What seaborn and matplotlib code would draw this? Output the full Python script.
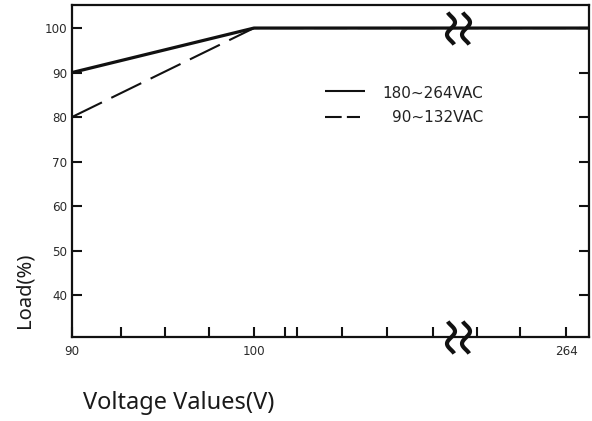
import numpy as np
import pandas as pd
import matplotlib
matplotlib.use("Agg")
import matplotlib.pyplot as plt
import matplotlib.transforms as mtransforms
from matplotlib.path import Path
import seaborn as sns

# data
volts = [90, 100, 270]          # 270 = right edge of the frame
load_high = [90, 100, 100]      # 180~264VAC
load_low = [80, 100, 100]       # 90~132VAC
series_names = ["180~264VAC", "90~132VAC"]
x_tick_values = [90, 100, 264]
x_tick_labels = ["90", "100", "264"]
y_tick_values = [40, 50, 60, 70, 80, 90, 100]

df = pd.DataFrame({
    "volt": volts + volts,
    "load": load_high + load_low,
    "series": [series_names[0]] * 3 + [series_names[1]] * 3,
})

# broken x axis: piecewise linear mapping voltage -> position
scale_volts = [90, 100, 264, 270]
scale_pos = [0.0, 0.352, 0.9555, 1.0]


def volt_to_pos(v):
    return np.interp(v, scale_volts, scale_pos)


def pos_to_volt(p):
    return np.interp(p, scale_pos, scale_volts)


sns.set_style("ticks")
plt.rcParams["font.family"] = ["DejaVu Sans"]

fig = plt.figure(figsize=(5.92, 4.21), dpi=100)
ax = fig.add_axes([0.1216, 0.1995, 0.8734, 0.7885])
ax.set_xscale("function", functions=(volt_to_pos, pos_to_volt))

sns.lineplot(data=df, x="volt", y="load", style="series",
             dashes={series_names[0]: "", series_names[1]: (16, 5)},
             color="#111111", legend=False, sort=False, estimator=None,
             ax=ax)
ax.lines[0].set_linewidth(2.3)
ax.lines[1].set_linewidth(1.5)

ax.set_xlim(90, 270)
ax.set_ylim(30.56, 105.17)

ax.set_xticks(x_tick_values)
ax.set_xticklabels(x_tick_labels)
minor_pos = np.array([0.0948, 0.180, 0.265, 0.412, 0.435, 0.522,
                      0.609, 0.698, 0.783, 0.867])
ax.set_xticks(pos_to_volt(minor_pos), minor=True)
ax.set_yticks(y_tick_values)
ax.set_yticklabels([str(v) for v in y_tick_values])

ax.tick_params(axis="both", which="both", direction="in", length=7,
               width=1.5, color="#111111", labelcolor="#2a2a2a",
               labelsize=8.6)
ax.tick_params(axis="y", right=True, pad=3.6)
ax.tick_params(axis="x", pad=6)
for sp in ax.spines.values():
    sp.set_linewidth(1.6)
    sp.set_color("#111111")

ax.set_xlabel("Voltage Values(V)", fontsize=17, family=["Noto Sans"],
              color="#1a1a1a")
ax.xaxis.set_label_coords(0.207, -0.163)
ax.set_ylabel("Load(%)", fontsize=14.5, family=["Noto Sans"],
              color="#1a1a1a")
ax.yaxis.set_label_coords(-0.091, 0.142)
ax.yaxis.label.set_verticalalignment("center")

# manual legend with right-aligned labels
ax.plot([0.489, 0.567], [0.741, 0.741], transform=ax.transAxes,
        color="#111111", lw=1.5, solid_capstyle="butt")
ax.plot([0.489, 0.557], [0.663, 0.663], transform=ax.transAxes,
        color="#111111", lw=1.5, linestyle=(0, (8, 2.5)),
        dash_capstyle="butt")
ax.text(0.795, 0.735, series_names[0], transform=ax.transAxes,
        ha="right", va="center", fontsize=11, color="#222222")
ax.text(0.795, 0.660, series_names[1], transform=ax.transAxes,
        ha="right", va="center", fontsize=11, color="#222222")

# break marks (two vertical squiggles with hooked ends)
t = np.linspace(-0.15, 1.15, 40)
verts = []
codes = []
for dx in (-0.47, 0.47):
    xs = dx + 0.25 * np.sin(2 * np.pi * t)
    ys = 1 - 2 * (t - t[0]) / (t[-1] - t[0])
    verts += list(zip(xs, ys))
    codes += [Path.MOVETO] + [Path.LINETO] * (len(t) - 1)
squiggle = Path(verts, codes)
blend = mtransforms.blended_transform_factory(ax.transAxes, ax.transData)
for yv in (100, 30.56):
    ax.plot([0.746], [yv], transform=blend, marker=squiggle,
            markersize=23, markeredgewidth=3, markeredgecolor="#111111",
            markerfacecolor="none", linestyle="none", clip_on=False)

fig.savefig("out.png", dpi=100)
